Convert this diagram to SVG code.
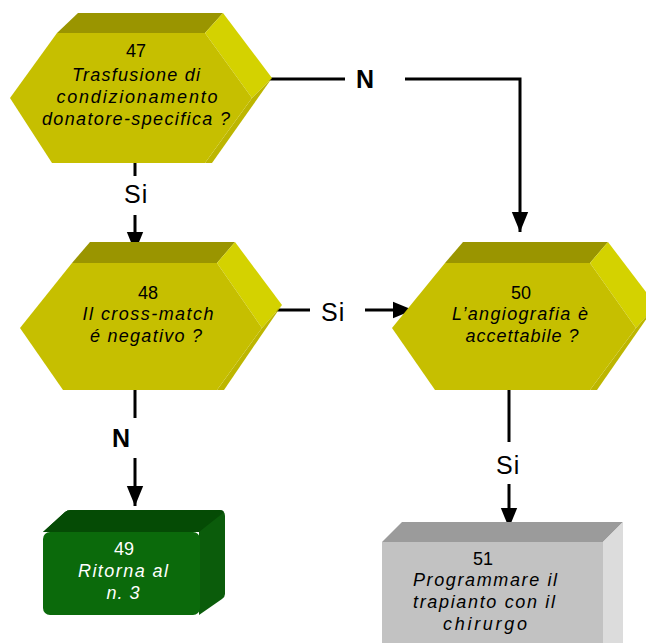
<svg xmlns="http://www.w3.org/2000/svg" width="646" height="643" viewBox="0 0 646 643">
  <style>
    .hex-front { fill: #c6bf00; }
    .hex-top { fill: #9a9500; }
    .hex-side { fill: #d4d200; }
    .hex-low { fill: #bdb600; }
    .num { font-family: "Liberation Sans", Arial, sans-serif; font-size: 18px; text-anchor: middle; fill: #000; }
    .txt { font-family: "Liberation Sans", Arial, sans-serif; font-size: 18px; font-style: italic; text-anchor: middle; fill: #000; }
    .white { fill: #ffffff; }
    .lbl { font-family: "Liberation Sans", Arial, sans-serif; font-size: 25px; fill: #000; letter-spacing: 1px; }
    .bold { font-weight: bold; }
    .line { stroke: #000; stroke-width: 3; fill: none; }
  </style>
  <defs>
    <marker id="arrow" markerUnits="userSpaceOnUse" markerWidth="20" markerHeight="24" refX="22" refY="9" orient="auto" viewBox="0 0 22 18">
      <polygon points="0,0 22,9 0,18" fill="#000"/>
    </marker>
  </defs>
  <rect width="646" height="643" fill="#ffffff"/>

  <!-- connectors -->
  <g id="connectors">
    <polyline class="line" points="265,79 345,79"/>
    <polyline class="line" points="405,79 520,79 520,232" marker-end="url(#arrow)"/>
    <line class="line" x1="135" y1="163" x2="135" y2="176"/>
    <line class="line" x1="135" y1="215" x2="135" y2="252" marker-end="url(#arrow)"/>
    <line class="line" x1="276" y1="310" x2="310" y2="310"/>
    <line class="line" x1="365" y1="310" x2="413" y2="310" marker-end="url(#arrow)"/>
    <line class="line" x1="135" y1="390" x2="135" y2="418"/>
    <line class="line" x1="135" y1="458" x2="135" y2="506" marker-end="url(#arrow)"/>
    <line class="line" x1="509" y1="390" x2="509" y2="442"/>
    <line class="line" x1="509" y1="484" x2="509" y2="528" marker-end="url(#arrow)"/>
    <text class="lbl bold" x="356" y="88">N</text>
    <text class="lbl" x="124" y="203">Si</text>
    <text class="lbl" x="321" y="321">Si</text>
    <text class="lbl" x="496" y="474">Si</text>
    <text class="lbl bold" x="112" y="447">N</text>
  </g>

  <!-- 47 -->
  <g id="node47">
    <polygon class="hex-top" points="57,33 78,13 223,13 205,33"/>
    <polygon class="hex-side" points="205,33 223,13 272,78 252,98"/>
    <polygon class="hex-low" points="252,98 272,78 212,163 205,163"/>
    <polygon class="hex-front" points="57,33 205,33 252,98 205,163 52,163 10,98"/>
    <text class="num" x="136" y="57">47</text>
    <text class="txt" x="136" y="81" textLength="128" lengthAdjust="spacing">Trasfusione di</text>
    <text class="txt" x="137" y="103" textLength="161" lengthAdjust="spacing">condizionamento</text>
    <text class="txt" x="136" y="125" textLength="188" lengthAdjust="spacing">donatore-specifica ?</text>
  </g>

  <!-- 48 -->
  <g id="node48">
    <polygon class="hex-top" points="72,263 90,242 235,242 217,263"/>
    <polygon class="hex-side" points="217,263 235,242 282,305 262,328"/>
    <polygon class="hex-low" points="262,328 282,305 224,390 217,390"/>
    <polygon class="hex-front" points="72,263 217,263 262,328 217,390 63,390 20,328"/>
    <text class="num" x="148" y="299">48</text>
    <text class="txt" x="148" y="320" textLength="131" lengthAdjust="spacing">Il cross-match</text>
    <text class="txt" x="146" y="342" textLength="112" lengthAdjust="spacing">é negativo ?</text>
  </g>

  <!-- 50 -->
  <g id="node50">
    <polygon class="hex-top" points="445,263 463,242 608,242 590,263"/>
    <polygon class="hex-side" points="590,263 608,242 656,305 636,328"/>
    <polygon class="hex-low" points="636,328 656,305 597,390 590,390"/>
    <polygon class="hex-front" points="445,263 590,263 636,328 590,390 435,390 392,328"/>
    <text class="num" x="521" y="299">50</text>
    <text class="txt" x="520" y="320" textLength="136" lengthAdjust="spacing">L’angiografia è</text>
    <text class="txt" x="522" y="342" textLength="113" lengthAdjust="spacing">accettabile ?</text>
  </g>

  <!-- 49 -->
  <g id="node49">
    <path d="M43,532 L65,512 Q67,510 71,510 L219,510 Q225,510 225,516 L225,594 Q225,597 222,599 L199,615 L199,532 Z" fill="#0b5c0b"/>
    <path d="M43,532 L65,512 Q67,510 71,510 L219,510 Q225,510 223,513 L199,532 Z" fill="#054b05"/>
    <rect x="43" y="532" width="157" height="83" rx="7" fill="#0b6a0b"/>
    <text class="num white" x="124" y="555">49</text>
    <text class="txt white" x="123" y="577" textLength="90" lengthAdjust="spacing">Ritorna al</text>
    <text class="txt white" x="123" y="599" textLength="33" lengthAdjust="spacing">n. 3</text>
  </g>

  <!-- 51 -->
  <g id="node51">
    <polygon points="382,542 402,522 623,522 603,542" fill="#9b9b9b"/>
    <polygon points="603,542 623,522 623,643 603,643" fill="#dcdcdc"/>
    <rect x="382" y="542" width="221" height="110" fill="#c2c2c2"/>
    <text class="num" x="483" y="565">51</text>
    <text class="txt" x="485" y="586" textLength="144" lengthAdjust="spacing">Programmare il</text>
    <text class="txt" x="484" y="608" textLength="142" lengthAdjust="spacing">trapianto con il</text>
    <text class="txt" x="485" y="630" textLength="84" lengthAdjust="spacing">chirurgo</text>
  </g>
</svg>
